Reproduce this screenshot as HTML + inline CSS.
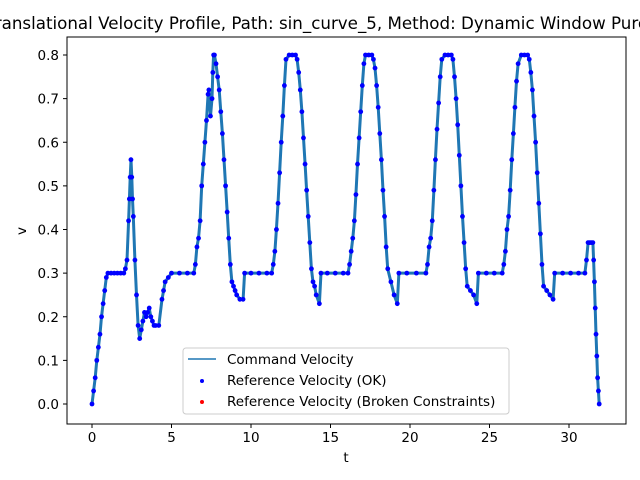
<!DOCTYPE html>
<html><head><meta charset="utf-8">
<style>
body{margin:0;background:#fff;}
svg{display:block;font-family:"DejaVu Sans","Liberation Sans",sans-serif;}
</style></head>
<body>
<svg id="chart" width="640" height="480" viewBox="0 0 640 480">
<rect width="640" height="480" fill="#fff"/>
<text x="-13" y="29" font-size="16.7" text-anchor="start">Translational Velocity Profile, Path: sin_curve_5, Method: Dynamic Window Pure Pursuit</text>
<g id="plot"></g>
<rect x="67" y="37" width="559" height="387" fill="none" stroke="#000" stroke-width="1"/>
<g id="axes"></g>
<text x="346" y="462" font-size="13.5" text-anchor="middle">t</text>
<text x="26" y="231" font-size="13.5" text-anchor="middle" transform="rotate(-90 26 231)">v</text>
<g>
<rect x="183" y="348" width="326" height="66" rx="3" fill="#fff" fill-opacity="0.8" stroke="#ccc"/>
<line x1="188" y1="359" x2="216" y2="359" stroke="#1f77b4" stroke-width="1.5"/>
<text x="227" y="364" font-size="13.5">Command Velocity</text>
<circle cx="202" cy="381" r="2" fill="#0000ff"/>
<text x="227" y="385" font-size="13.5">Reference Velocity (OK)</text>
<circle cx="202" cy="402" r="2" fill="#ff0000"/>
<text x="227" y="406" font-size="13.5">Reference Velocity (Broken Constraints)</text>
</g>
</svg>
<script>
const tVals=[
0,0.1,0.2,0.3,0.4,0.5,0.6,0.7,0.8,0.9,
1.0,1.2,1.4,1.6,1.8,2.0,
2.1,2.2,2.3,2.35,2.4,2.45,2.5,2.55,2.6,2.7,2.8,2.9,3.0,
3.1,3.2,3.3,3.4,3.5,3.6,3.7,3.8,3.9,4.0,4.2,
4.4,4.5,4.6,4.8,5.0,5.5,6.0,6.4,
6.5,6.6,6.7,6.8,6.9,7.0,7.1,7.2,7.3,7.35,7.45,7.55,7.6,7.65,7.7,
7.8,7.9,8.0,8.1,8.2,8.3,8.4,8.5,8.6,8.7,8.8,8.9,9.0,9.1,9.3,9.5,
9.6,10.0,10.5,11.0,11.3,
11.4,11.5,11.6,11.7,11.8,11.9,12.0,12.1,12.2,12.4,12.6,12.8,
12.9,13.0,13.1,13.2,13.3,13.4,13.5,13.6,13.7,13.8,13.9,14.0,14.1,14.3,
14.4,14.8,15.3,15.8,16.1,
16.2,16.3,16.4,16.5,16.6,16.7,16.8,16.9,17.0,17.1,17.2,17.4,17.6,
17.7,17.8,17.9,18.0,18.1,18.2,18.3,18.4,18.5,18.6,18.8,19.0,19.2,
19.3,19.8,20.4,21.0,
21.1,21.2,21.3,21.4,21.5,21.6,21.7,21.8,21.9,22.0,22.2,22.4,22.6,
22.7,22.8,22.9,23.0,23.1,23.2,23.3,23.4,23.5,23.6,23.8,24.0,24.2,
24.3,24.8,25.3,25.8,
25.9,26.0,26.1,26.2,26.3,26.4,26.5,26.6,26.7,26.8,27.0,27.2,27.4,
27.5,27.6,27.7,27.8,27.9,28.0,28.1,28.2,28.3,28.4,28.6,28.8,29.0,
29.1,29.6,30.1,30.6,31.0,
31.1,31.2,31.3,31.4,31.5,31.55,31.6,31.65,31.7,31.75,31.8,31.85,31.9];
const vVals=[
0,0.03,0.06,0.10,0.13,0.16,0.20,0.23,0.26,0.29,
0.30,0.30,0.30,0.30,0.30,0.30,
0.31,0.33,0.42,0.47,0.52,0.56,0.52,0.47,0.43,0.33,0.25,0.18,0.15,
0.17,0.19,0.21,0.20,0.21,0.22,0.20,0.19,0.18,0.18,0.18,
0.24,0.26,0.28,0.29,0.30,0.30,0.30,0.30,
0.32,0.36,0.38,0.42,0.50,0.55,0.60,0.65,0.71,0.72,0.66,0.70,0.76,0.80,0.80,
0.78,0.75,0.72,0.67,0.62,0.56,0.50,0.44,0.38,0.32,0.28,0.27,0.26,0.25,0.24,0.24,
0.30,0.30,0.30,0.30,0.30,
0.32,0.35,0.40,0.46,0.53,0.60,0.66,0.73,0.79,0.80,0.80,0.80,
0.79,0.76,0.72,0.67,0.61,0.55,0.49,0.43,0.37,0.31,0.28,0.27,0.25,0.23,
0.30,0.30,0.30,0.30,0.30,
0.32,0.35,0.38,0.42,0.48,0.55,0.61,0.67,0.73,0.78,0.80,0.80,0.80,
0.79,0.77,0.73,0.68,0.62,0.56,0.49,0.43,0.36,0.31,0.28,0.25,0.23,
0.30,0.30,0.30,0.30,
0.32,0.36,0.38,0.42,0.49,0.56,0.63,0.69,0.75,0.79,0.80,0.80,0.80,
0.79,0.75,0.70,0.64,0.57,0.50,0.43,0.37,0.31,0.27,0.26,0.25,0.23,
0.30,0.30,0.30,0.30,
0.32,0.35,0.40,0.43,0.49,0.56,0.62,0.68,0.74,0.78,0.80,0.80,0.80,
0.79,0.76,0.72,0.66,0.60,0.53,0.46,0.39,0.32,0.27,0.26,0.25,0.24,
0.30,0.30,0.30,0.30,0.30,
0.33,0.37,0.37,0.37,0.37,0.33,0.28,0.22,0.16,0.11,0.06,0.03,0.0];
const xTicks=[0,5,10,15,20,25,30];
const yTicks=[0.0,0.1,0.2,0.3,0.4,0.5,0.6,0.7,0.8];
const NS='http://www.w3.org/2000/svg';
const xS=t=>92+t*15.9;
const yS=v=>404-v*436.25;
const plot=document.getElementById('plot');
const axes=document.getElementById('axes');
let d='';
tVals.forEach((t,i)=>{d+=(i?'L':'M')+xS(t).toFixed(1)+' '+yS(vVals[i]).toFixed(1);});
const line=document.createElementNS(NS,'path');


line.setAttribute('d',d);line.setAttribute('fill','none');line.setAttribute('stroke','#1f77b4');line.setAttribute('stroke-width','3');line.setAttribute('stroke-linejoin','round');
plot.appendChild(line);
tVals.forEach((t,i)=>{
 const c=document.createElementNS(NS,'circle');
 
 
 c.setAttribute('cx',xS(t));c.setAttribute('cy',yS(vVals[i]));c.setAttribute('r','2.4');c.setAttribute('fill','#0000ff');
 plot.appendChild(c);
});
xTicks.forEach(t=>{
 const l=document.createElementNS(NS,'line');
 
 
 l.setAttribute('x1',xS(t));l.setAttribute('x2',xS(t));l.setAttribute('y1',424);l.setAttribute('y2',428);l.setAttribute('stroke','#000');
 axes.appendChild(l);
 const tx=document.createElementNS(NS,'text');
 
 
 tx.setAttribute('x',xS(t));tx.setAttribute('y',442);tx.setAttribute('font-size','13.5');tx.setAttribute('text-anchor','middle');
 tx.textContent=t;axes.appendChild(tx);
});
yTicks.forEach(v=>{
 const l=document.createElementNS(NS,'line');
 
 
 l.setAttribute('x1',63);l.setAttribute('x2',67);l.setAttribute('y1',yS(v));l.setAttribute('y2',yS(v));l.setAttribute('stroke','#000');
 axes.appendChild(l);
 const tx=document.createElementNS(NS,'text');
 
 
 tx.setAttribute('x',59);tx.setAttribute('y',yS(v)+5);tx.setAttribute('font-size','13.5');tx.setAttribute('text-anchor','end');
 tx.textContent=v.toFixed(1);axes.appendChild(tx);
});
</script>
</body></html>
